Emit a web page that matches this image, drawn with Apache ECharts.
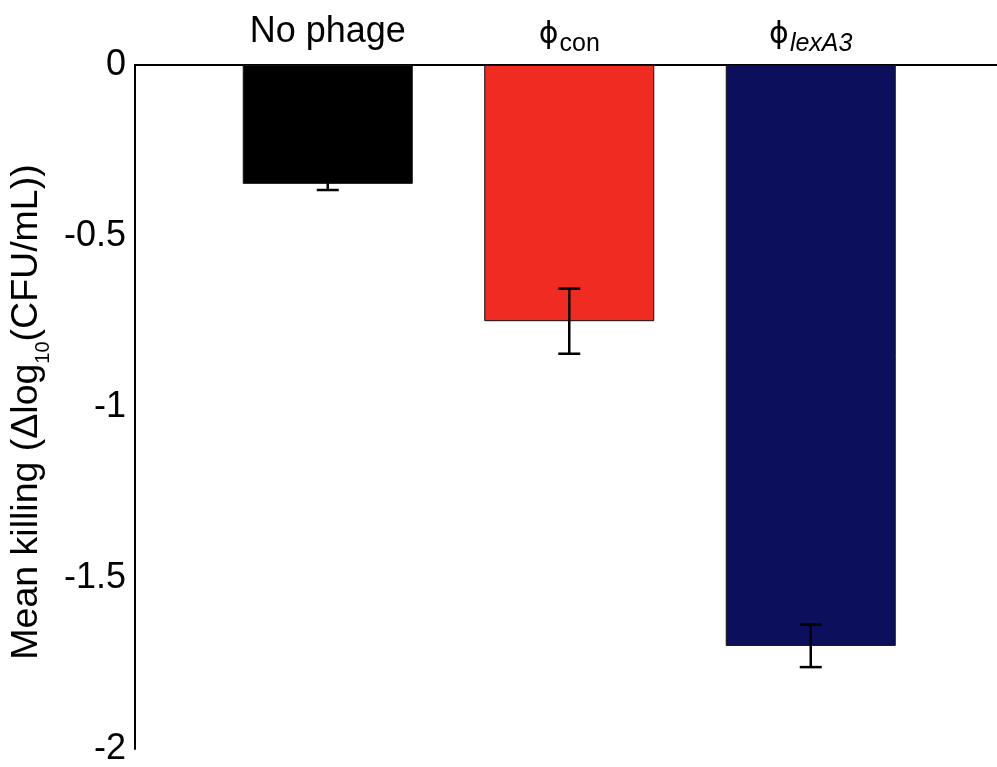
<!DOCTYPE html>
<html>
<head>
<meta charset="utf-8">
<script src="https://cdn.jsdelivr.net/npm/echarts@6/dist/echarts.min.js"></script>
<style>
  html, body { margin: 0; padding: 0; background: #fff; }
  #chart { width: 997px; height: 767px; }
</style>
</head>
<body>
<div id="chart"></div>
<script>
// Treatment groups, mean killing and its error (Δlog10 CFU/mL)
const categories = ['noPhage', 'con', 'lexA3'];
const meanKilling = [-0.347, -0.748, -1.696];
const errorValues = [0.018, 0.095, 0.062];
const barColors = ['#000000', '#ef2b22', '#0b0f5c'];
const yTicks = [0, -0.5, -1, -1.5, -2];

const FONT = '"Liberation Sans", Arial, sans-serif';
const PHI_FONT = '"DejaVu Sans", sans-serif';

const chart = echarts.init(document.getElementById('chart'));

const categoryLabel = (v) => {
  if (v === 'noPhage') return '{plain|No phage}';
  if (v === 'con') return '{phi|ϕ}{sub|con}';
  return '{phi|ϕ}{subIt|lexA3}';
};

chart.setOption({
  backgroundColor: '#ffffff',
  animation: false,
  grid: [
    // frame: y axis and top axis line across the whole plot
    { left: 134, right: 0, top: 65, bottom: 17 },
    // bars
    { left: 207, width: 724.5, top: 65, bottom: 17 }
  ],
  xAxis: [
    {
      gridIndex: 0, type: 'category', position: 'top', data: categories,
      axisLine: { lineStyle: { color: '#000', width: 2 } },
      axisTick: { show: false }, axisLabel: { show: false }, splitLine: { show: false }
    },
    {
      gridIndex: 1, type: 'category', position: 'top', data: categories,
      axisLine: { show: false }, axisTick: { show: false },
      axisLabel: {
        margin: 15,
        formatter: categoryLabel,
        rich: {
          plain: { fontFamily: FONT, fontSize: 36, color: '#000', verticalAlign: 'bottom' },
          phi: { fontFamily: PHI_FONT, fontSize: 30, color: '#000', verticalAlign: 'bottom' },
          sub: { fontFamily: FONT, fontSize: 25, color: '#000', verticalAlign: 'bottom', padding: [0, 0, -7, 1] },
          subIt: { fontFamily: FONT, fontSize: 25, fontStyle: 'italic', color: '#000', verticalAlign: 'bottom', padding: [0, 0, -7, 1] }
        }
      }
    }
  ],
  yAxis: [
    {
      gridIndex: 0, type: 'value', min: -2, max: 0, interval: 0.5,
      axisLine: { show: true, lineStyle: { color: '#000', width: 2 } },
      axisTick: { show: false }, splitLine: { show: false },
      axisLabel: {
        margin: 9, fontFamily: FONT, fontSize: 36, color: '#000',
        formatter: (v) => (yTicks.includes(v) ? String(v) : '')
      },
      name: '{t|Mean killing (Δlog}{s|10}{t|(CFU/mL))}',
      nameLocation: 'middle', nameGap: 84, nameRotate: 90,
      nameTextStyle: {
        padding: [0, 10, 0, 0],
        rich: {
          t: { fontFamily: FONT, fontSize: 37.5, color: '#000', verticalAlign: 'bottom' },
          s: { fontFamily: FONT, fontSize: 20, color: '#000', verticalAlign: 'bottom', padding: [0, 0, -7, 0] }
        }
      }
    },
    {
      gridIndex: 1, type: 'value', min: -2, max: 0, show: false
    }
  ],
  series: [
    {
      type: 'bar', xAxisIndex: 1, yAxisIndex: 1, barWidth: 170,
      data: meanKilling.map((v, i) => ({
        value: v,
        itemStyle: { color: barColors[i], borderColor: '#111', borderWidth: 1 }
      }))
    },
    {
      type: 'custom', xAxisIndex: 1, yAxisIndex: 1, z: 5,
      data: meanKilling.map((v, i) => [i, v - errorValues[i], v + errorValues[i]]),
      renderItem: (params, api) => {
        const lo = api.coord([api.value(0), api.value(1)]);
        const hi = api.coord([api.value(0), api.value(2)]);
        const half = 11;
        const style = { stroke: '#000', lineWidth: 2.5 };
        return {
          type: 'group',
          children: [
            { type: 'line', shape: { x1: lo[0], y1: lo[1], x2: hi[0], y2: hi[1] }, style },
            { type: 'line', shape: { x1: lo[0] - half, y1: lo[1], x2: lo[0] + half, y2: lo[1] }, style },
            { type: 'line', shape: { x1: hi[0] - half, y1: hi[1], x2: hi[0] + half, y2: hi[1] }, style }
          ]
        };
      }
    }
  ]
});
</script>
</body>
</html>
